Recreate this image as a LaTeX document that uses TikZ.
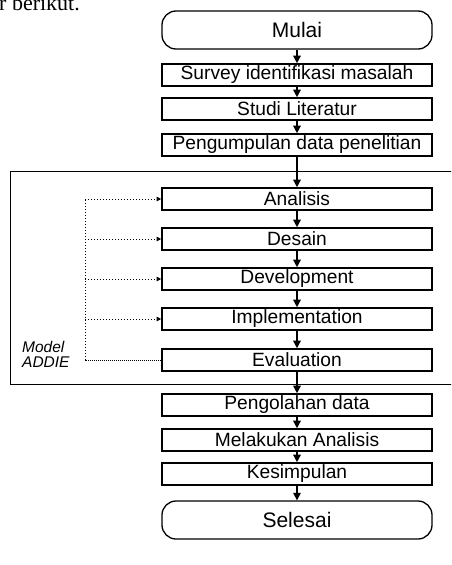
\documentclass[tikz,border=0pt]{standalone}
\usepackage{fontspec}
\setmainfont{Liberation Sans}
\newfontfamily\bodyserif{Liberation Serif}
\usetikzlibrary{arrows.meta}

\begin{document}
\begin{tikzpicture}[x=1pt,y=-1pt,
  stepbox/.style={draw,line width=1.6pt,minimum width=270pt,minimum height=22pt,inner sep=0pt,font=\fontsize{19.2}{20}\selectfont},
  endbox/.style={draw,line width=1.3pt,rounded corners=14pt,minimum width=270pt,minimum height=38pt,inner sep=0pt,font=\fontsize{21}{24}\selectfont},
  flow/.style={line width=1.4pt,-{Triangle[length=7.5pt,width=7.5pt]}},
  loopline/.style={dotted,line width=1pt,-{Triangle[length=4.5pt,width=4.5pt]}}]
  \useasboundingbox (0,0) rectangle (451,565);
  \clip (0,0) rectangle (451,565);
  % tail of the sentence above the figure
  \node[anchor=base west,inner sep=0pt,font=\bodyserif\fontsize{22}{24}\selectfont] (prev) at (-1,10) {r berikut.};
  % main flow, x centre 297, y in px from the top
  \node[endbox]  (mulai) at (297,30)  {Mulai};
  \node[stepbox] (surv)  at (297,75)  {Survey identifikasi masalah};
  \node[stepbox] (studi) at (297,109) {Studi Literatur};
  \node[stepbox] (kumpul) at (297,145) {Pengumpulan data penelitian};
  \node[stepbox] (ana)   at (297,199) {Analisis};
  \node[stepbox] (des)   at (297,239) {Desain};
  \node[stepbox] (dev)   at (297,279) {Development};
  \node[stepbox] (imp)   at (297,319) {Implementation};
  \node[stepbox] (eva)   at (297,360) {Evaluation};
  \node[stepbox] (olah)  at (297,405) {Pengolahan data};
  \node[stepbox] (lakukan) at (297,440) {Melakukan Analisis};
  \node[stepbox] (simpul) at (297,474) {Kesimpulan};
  \node[endbox]  (selesai) at (297,520) {Selesai};
  \foreach \a/\b in {mulai/surv,surv/studi,studi/kumpul,kumpul/ana,ana/des,des/dev,dev/imp,imp/eva,eva/olah,olah/lakukan,lakukan/simpul,simpul/selesai}
    \draw[flow] (\a) -- (\b);
  % ADDIE frame, open to the right
  \draw[line width=1pt] (460,171) -- (10,171) -- (10,384) -- (460,384);
  \node[anchor=north west,align=left,inner sep=0pt,font=\itshape\fontsize{15.5}{15}\selectfont] (addie) at (22,341) {Model\\ADDIE};
  % feedback from Evaluation
  \coordinate (spine) at (85,199);
  \coordinate (corner) at (85,360);
  \draw[densely dotted,line width=1pt] (eva.west) -- (corner);
  \draw[dotted,line width=1pt] (corner) -- (spine);
  \draw[loopline] (spine) -- (ana.west);
  \foreach \n in {des,dev,imp}
    \draw[loopline] (spine |- \n.west) -- (\n.west);
\end{tikzpicture}
\end{document}
